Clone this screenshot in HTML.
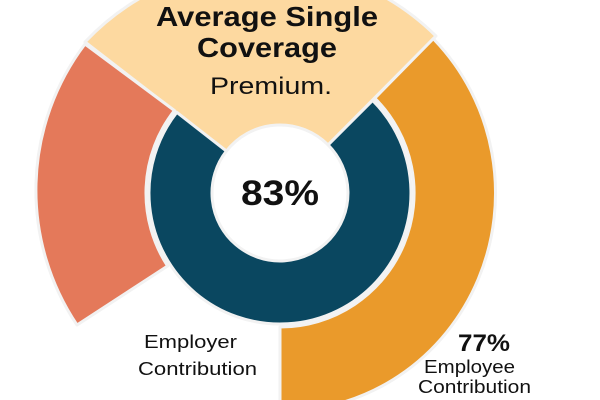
<!DOCTYPE html>
<html><head><meta charset="utf-8"><style>
html,body{margin:0;padding:0;background:#fff;}
svg{display:block;}
text{font-family:"Liberation Sans","DejaVu Sans",sans-serif;fill:#111;}
</style></head><body>
<svg width="600" height="400" viewBox="0 0 600 400" xmlns="http://www.w3.org/2000/svg">
<rect width="600" height="400" fill="#fff"/>
<g stroke="#f2f2f2" stroke-width="3" stroke-linejoin="round">
<path d="M226.4,151.1 L85,42 A245 245 0 0 1 436,36 L328.1,144.9 A68 68 0 0 0 226.4,151.1Z" fill="#FDD9A0"/>
<path d="M167.6,266 L77,325 A242 242 0 0 1 85,44 L174.4,110.5 A134 134 0 0 0 167.6,266Z" fill="#E4795A"/>
<path d="M374.8,98.2 L434,38 L434.5,40 A212 218 0 0 1 280,411 L280,327 A134 134 0 0 0 374.8,98.2Z" fill="#EA9A2B"/>
<path d="M372.6,100.4 A131 131 0 1 1 176.8,112.3 L226.4,151.1 A68 68 0 1 0 328.1,144.9 Z" fill="#0A4760"/>
</g>
<circle cx="280" cy="193" r="66" fill="#fff"/>
<text x="267" y="26" font-size="28" font-weight="bold" text-anchor="middle" textLength="222" lengthAdjust="spacingAndGlyphs">Average Single</text>
<text x="267" y="57" font-size="28" font-weight="bold" text-anchor="middle" textLength="140" lengthAdjust="spacingAndGlyphs">Coverage</text>
<text x="271" y="94" font-size="24" text-anchor="middle" textLength="122" lengthAdjust="spacingAndGlyphs">Premium.</text>
<text x="280" y="205" font-size="35" font-weight="bold" text-anchor="middle" textLength="78" lengthAdjust="spacingAndGlyphs">83%</text>
<text x="144" y="348" font-size="18" textLength="93" lengthAdjust="spacingAndGlyphs">Employer</text>
<text x="138" y="375" font-size="18" textLength="119" lengthAdjust="spacingAndGlyphs">Contribution</text>
<text x="458" y="351" font-size="24" font-weight="bold" textLength="52" lengthAdjust="spacingAndGlyphs">77%</text>
<text x="424" y="373" font-size="18" textLength="91" lengthAdjust="spacingAndGlyphs">Employee</text>
<text x="418" y="393" font-size="18" textLength="113" lengthAdjust="spacingAndGlyphs">Contribution</text>
</svg>
</body></html>
